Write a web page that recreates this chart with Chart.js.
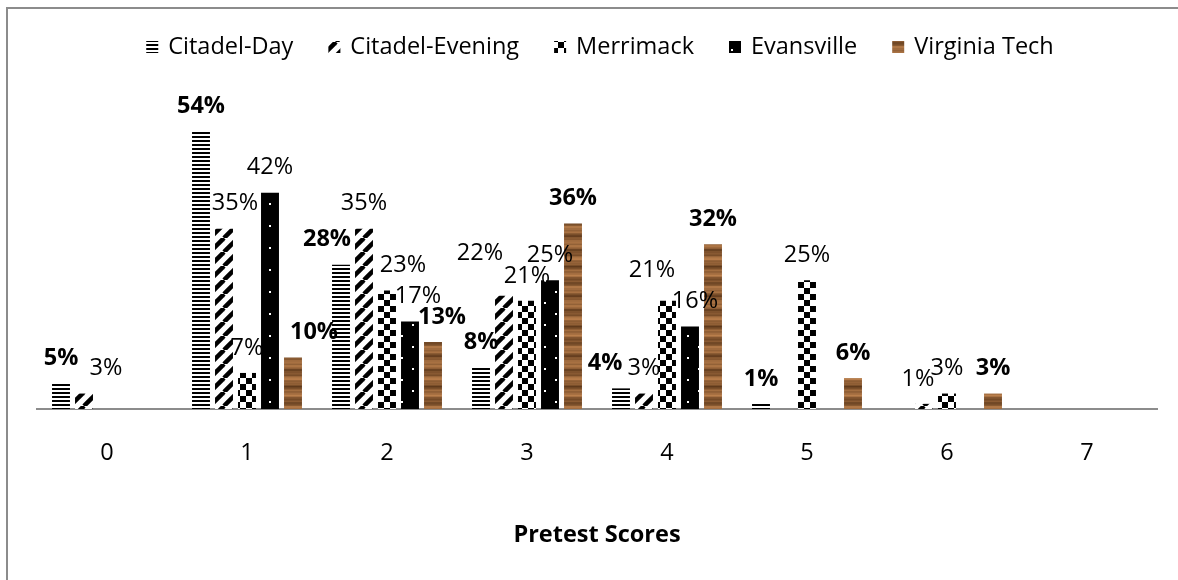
<!DOCTYPE html>
<html>
<head>
<meta charset="utf-8">
<script src="https://cdn.jsdelivr.net/npm/chart.js@4.4.1/dist/chart.umd.min.js"></script>
<style>
  html, body { margin: 0; padding: 0; background: #fff; }
  canvas { display: block; }
</style>
</head>
<body>
<canvas id="c" width="1178" height="580"></canvas>
<script>
// Pretest score distribution per school (percent of students at each score)
const scoreLabels    = ['0', '1', '2', '3', '4', '5', '6', '7'];
const seriesNames    = ['Citadel-Day', 'Citadel-Evening', 'Merrimack', 'Evansville', 'Virginia Tech'];
const citadelDay     = [5, 54, 28, 8, 4, 1, null, null];
const citadelEvening = [3, 35, 35, 22, 3, null, 1, null];
const merrimack      = [null, 7, 23, 21, 21, 25, 3, null];
const evansville     = [null, 42, 17, 25, 16, null, null, null];
const virginiaTech   = [null, 10, 13, 36, 32, 6, 3, null];
const axisTitle      = 'Pretest Scores';

const FONT = '"Open Sans", "Noto Sans", sans-serif';
const FONT_SIZE = 23.5;
const boldSeries = [0, 4];

// hand-placed label nudges (series,category) -> [dx, dy] in px
const labelNudge = {
  '1,0': [22, 0], '1,1': [11, 0], '4,1': [21, 0], '0,2': [-14, 0], '2,2': [16, 0],
  '3,2': [8, 0], '4,2': [9, 0], '1,3': [-24, -17], '0,4': [-16, 0], '2,4': [-15, -6],
  '3,4': [5, 0], '1,6': [-6, 0]
};

const canvas = document.getElementById('c');
const ctx = canvas.getContext('2d');

function tile(w, h, draw) {
  const t = document.createElement('canvas');
  t.width = w; t.height = h;
  draw(t.getContext('2d'), w, h);
  return ctx.createPattern(t, 'repeat');
}

// horizontal stripes
const stripePattern = tile(4, 4, (g) => {
  g.fillStyle = '#fff'; g.fillRect(0, 0, 4, 4);
  g.fillStyle = '#000'; g.fillRect(0, 0, 4, 2);
});
// wide upward diagonal
const diagPattern = tile(14, 14, (g) => {
  g.fillStyle = '#fff'; g.fillRect(0, 0, 14, 14);
  g.strokeStyle = '#000'; g.lineWidth = 4.5;
  for (const k of [-14, 0, 14]) {
    g.beginPath(); g.moveTo(k, 14); g.lineTo(k + 14, 0); g.stroke();
  }
});
// large checkerboard
const checkerPattern = tile(12, 12, (g) => {
  g.fillStyle = '#fff'; g.fillRect(0, 0, 12, 12);
  g.fillStyle = '#000'; g.fillRect(0, 0, 6, 6); g.fillRect(6, 6, 6, 6);
});
// black with small white dots
const dotPattern = tile(22, 22, (g) => {
  g.fillStyle = '#000'; g.fillRect(0, 0, 22, 22);
  g.fillStyle = '#fff'; g.fillRect(5, 5, 2, 2); g.fillRect(16, 16, 2, 2);
});
// wood grain
const woodPattern = tile(20, 60, (g) => {
  for (let y = 0; y < 60; y++) {
    const t = 0.5 + 0.28 * Math.sin(y * 0.42) + 0.17 * Math.sin(y * 1.1 + 0.7) + 0.08 * Math.sin(y * 2.3 + 1.9);
    const r = Math.round(95 + 95 * t), gg = Math.round(58 + 72 * t), b = Math.round(28 + 50 * t);
    g.fillStyle = `rgb(${r},${gg},${b})`;
    g.fillRect(0, y, 20, 1);
  }
});

const fills = [stripePattern, diagPattern, checkerPattern, dotPattern, woodPattern];
const seriesData = [citadelDay, citadelEvening, merrimack, evansville, virginiaTech];

const frame = {
  id: 'frame',
  beforeDraw(chart) {
    const c = chart.ctx;
    c.save();
    c.fillStyle = '#fff'; c.fillRect(0, 0, chart.width, chart.height);
    c.strokeStyle = '#8c8c8c'; c.lineWidth = 2;
    c.beginPath(); c.moveTo(7, chart.height); c.lineTo(7, 8); c.lineTo(chart.width, 8); c.stroke();
    c.restore();
  }
};

const valueLabels = {
  id: 'valueLabels',
  afterDatasetsDraw(chart) {
    const c = chart.ctx;
    chart.data.datasets.forEach((ds, si) => {
      const meta = chart.getDatasetMeta(si);
      meta.data.forEach((bar, ci) => {
        const v = ds.data[ci];
        if (v == null) return;
        const n = labelNudge[si + ',' + ci] || [0, 0];
        c.save();
        c.font = (boldSeries.includes(si) ? 'bold ' : '') + FONT_SIZE + 'px ' + FONT;
        c.fillStyle = '#000';
        c.textAlign = 'center';
        c.textBaseline = 'middle';
        c.fillText(v + '%', bar.x + n[0], bar.y - 25 + n[1]);
        c.restore();
      });
    });
  }
};

const legendRow = {
  id: 'legendRow',
  afterDraw(chart) {
    const c = chart.ctx;
    c.save();
    c.font = FONT_SIZE + 'px ' + FONT;
    const box = 12, gapText = 10, gapItem = 35;
    const items = chart.data.datasets.map((ds) => ({ text: ds.label, fill: ds.backgroundColor, w: c.measureText(ds.label).width }));
    const total = items.reduce((s, it) => s + box + gapText + it.w, 0) + gapItem * (items.length - 1);
    let x = 600 - total / 2;
    const yMid = 47;
    c.textBaseline = 'middle';
    c.textAlign = 'left';
    items.forEach((it) => {
      c.fillStyle = it.fill;
      c.fillRect(x, yMid - 6, box, box);
      c.fillStyle = '#000';
      c.fillText(it.text, x + box + gapText, yMid);
      x += box + gapText + it.w + gapItem;
    });
    c.restore();
  }
};

new Chart(ctx, {
  type: 'bar',
  data: {
    labels: scoreLabels,
    datasets: seriesNames.map((name, i) => ({
      label: name,
      data: seriesData[i],
      backgroundColor: fills[i],
      borderWidth: 0
    }))
  },
  options: {
    responsive: false,
    animation: false,
    devicePixelRatio: 1,
    layout: { padding: { left: 37, right: 21, top: 100, bottom: 0 } },
    datasets: { bar: { categoryPercentage: 0.8214, barPercentage: 0.78 } },
    plugins: { legend: { display: false }, tooltip: { enabled: false } },
    scales: {
      x: {
        grid: { display: false, drawTicks: false },
        border: { display: true, color: '#8c8c8c', width: 2 },
        ticks: { color: '#000', font: { family: FONT, size: FONT_SIZE }, padding: 30 },
        title: {
          display: true, text: axisTitle, color: '#000',
          font: { family: FONT, size: FONT_SIZE, weight: 'bold' },
          padding: { top: 0, bottom: 31 }
        },
        afterFit(scale) { scale.height = 171; }
      },
      y: { display: false, min: 0, max: 60 }
    }
  },
  plugins: [frame, valueLabels, legendRow]
});
</script>
</body>
</html>
